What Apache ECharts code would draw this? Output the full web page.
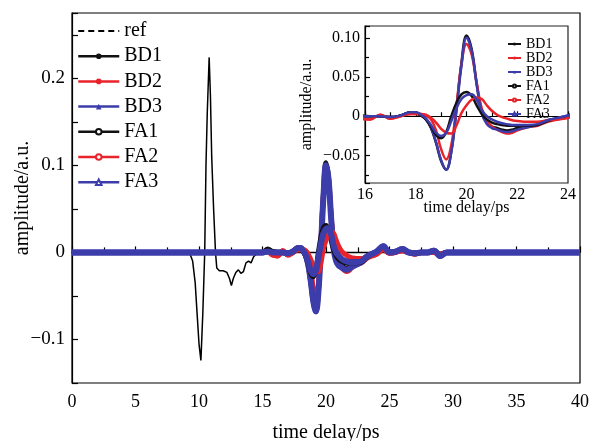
<!DOCTYPE html>
<html><head><meta charset="utf-8">
<script src="https://cdn.jsdelivr.net/npm/echarts@6/dist/echarts.min.js"></script>
<style>html,body{margin:0;padding:0;background:#fff}#c{width:592px;height:441px}</style>
</head><body><div id="c"></div>
<script>
// reference pulse
const timeRef = [0, 9.0, 9.3, 9.5, 9.7, 9.85, 10.0, 10.15, 10.3, 10.45, 10.55, 10.65, 10.8, 10.9, 11.0, 11.15, 11.3, 11.4, 11.6, 11.9, 12.2, 12.4, 12.55, 12.7, 12.9, 13.1, 13.3, 13.5, 13.7, 13.9, 14.1, 14.3, 14.5, 14.8, 15.2, 40];
const refValues = [0, 0, -0.002, -0.01, -0.035, -0.07, -0.105, -0.124, -0.07, 0.0, 0.1, 0.16, 0.224, 0.18, 0.11, 0.05, 0.0, -0.018, -0.021, -0.021, -0.023, -0.03, -0.038, -0.03, -0.023, -0.02, -0.024, -0.022, -0.012, -0.01, -0.012, -0.005, -0.002, 0.001, 0, 0];

// signal time axis (ps)
const timeSig = [0, 15, 15.4, 15.8, 16.2, 16.6, 17.0, 17.4, 17.8, 18.0, 18.2, 18.4, 18.6, 18.8, 19.0, 19.2, 19.4, 19.6, 19.8, 20.0, 20.2, 20.4, 20.6, 20.8, 21.0, 21.2, 21.4, 21.6, 21.8, 22.0, 22.4, 22.8, 23.2, 23.6, 24.0, 24.5, 25.0, 25.5, 26.0, 26.5, 27.0, 27.5, 28.0, 28.5, 29.0, 29.5, 30, 40];

const bd1 = [0, 0, 0.004, 0.001, 0.0, 0.0, -0.001, 0.001, 0.005, 0.004, 0.001, -0.004, -0.015, -0.034, -0.057, -0.068, -0.045, 0.008, 0.068, 0.103, 0.086, 0.042, 0.006, -0.008, -0.013, -0.015, -0.017, -0.018, -0.017, -0.015, -0.013, -0.011, -0.005, -0.003, 0.0, 0.006, 0.0, 0.001, 0.003, 0.0, -0.001, 0.0, 0.0, 0.001, -0.003, 0.0, 0, 0];
const bd2 = [0, 0, 0.001, -0.003, -0.004, 0.002, -0.003, 0.0, 0.003, 0.003, 0.003, 0.001, -0.004, -0.018, -0.042, -0.055, -0.037, 0.012, 0.066, 0.092, 0.079, 0.043, 0.01, -0.006, -0.013, -0.017, -0.02, -0.022, -0.021, -0.018, -0.014, -0.012, -0.007, -0.004, -0.002, 0.004, -0.001, 0.0, 0.002, 0.0, -0.002, 0.0, 0.0, 0.0, -0.002, 0.0, 0, 0];
const bd3 = [0, 0, 0.001, 0.0, 0.0, 0.0, -0.001, 0.001, 0.005, 0.005, 0.002, -0.003, -0.014, -0.033, -0.056, -0.068, -0.046, 0.006, 0.064, 0.100, 0.084, 0.04, 0.004, -0.01, -0.015, -0.017, -0.019, -0.02, -0.019, -0.017, -0.014, -0.011, -0.005, -0.002, 0.001, 0.007, 0.0, 0.001, 0.004, 0.0, -0.001, 0.0, 0.0, 0.002, -0.004, 0.0, 0, 0];
const fa1 = [0, 0, 0.003, 0.001, 0.0, 0.0, -0.001, 0.001, 0.005, 0.004, 0.001, -0.004, -0.013, -0.024, -0.028, -0.02, 0.0, 0.017, 0.028, 0.031, 0.026, 0.014, 0.003, -0.004, -0.008, -0.01, -0.011, -0.012, -0.012, -0.012, -0.012, -0.011, -0.006, -0.003, 0.0, 0.005, 0.0, 0.001, 0.003, 0.0, -0.001, 0.0, 0.0, 0.001, -0.002, 0.0, 0, 0];
const fa2 = [0, 0, 0.001, -0.003, -0.004, 0.002, -0.003, 0.0, 0.003, 0.003, 0.003, 0.002, -0.002, -0.008, -0.016, -0.021, -0.022, -0.012, 0.004, 0.014, 0.021, 0.024, 0.022, 0.014, 0.007, 0.002, -0.001, -0.003, -0.005, -0.006, -0.007, -0.007, -0.005, -0.004, -0.002, 0.003, -0.001, 0.0, 0.002, 0.0, -0.002, 0.0, 0.0, 0.0, -0.002, 0.0, 0, 0];
const fa3 = [0, 0, 0.001, 0.0, 0.0, 0.0, -0.001, 0.001, 0.005, 0.005, 0.002, -0.003, -0.011, -0.021, -0.025, -0.021, -0.006, 0.01, 0.022, 0.027, 0.028, 0.021, 0.008, 0.0, -0.004, -0.007, -0.009, -0.01, -0.011, -0.011, -0.011, -0.01, -0.005, -0.002, 0.001, 0.007, 0.0, 0.001, 0.004, 0.0, -0.001, 0.0, 0.0, 0.002, -0.004, 0.0, 0, 0];

const seriesNames = ['BD1', 'BD2', 'BD3', 'FA1', 'FA2', 'FA3'];
const seriesValues = [bd1, bd2, bd3, fa1, fa2, fa3];
const mainYTicks = ['−0.1', '0', '0.1', '0.2'];
const insetYTicks = ['−0.05', '0', '0.05', '0.10'];

const colors = ['#111111', '#e8232a', '#3c3caa', '#111111', '#e8232a', '#3c3caa'];
const symbols = ['circle', 'circle', 'triangle', 'emptyCircle', 'emptyCircle', 'emptyTriangle'];
const FONT = '"Liberation Serif", "DejaVu Serif", serif';
const pairs = (xs, ys) => xs.map((x, i) => [x, ys[i]]);

function fmt(v, step, dec) {
  const k = Math.round(v / step);
  if (Math.abs(v / step - k) > 1e-6) return '';
  if (k === 0) return '0';
  const s = (Math.abs(k) * step).toFixed(dec);
  return (k < 0 ? '−' : '') + s;
}

const series = [{
  name: 'ref', type: 'line', xAxisIndex: 0, yAxisIndex: 0,
  data: pairs(timeRef, refValues), symbol: 'none',
  lineStyle: { color: '#000', width: 1.5 }, itemStyle: { color: '#000' }, z: 2
}];
seriesNames.forEach((n, i) => series.push({
  name: n, type: 'line', xAxisIndex: 0, yAxisIndex: 0,
  data: pairs(timeSig, seriesValues[i]), smooth: 0.4,
  symbol: symbols[i], showSymbol: false, symbolSize: 6,
  lineStyle: { color: colors[i], width: i === 2 || i === 5 ? 6 : 5 }, itemStyle: { color: colors[i] }, z: 3 + i
}));
seriesNames.forEach((n, i) => series.push({
  name: n, type: 'line', xAxisIndex: 1, yAxisIndex: 1,
  data: pairs(timeSig, seriesValues[i]), smooth: 0.4,
  symbol: symbols[i], showSymbol: false,
  lineStyle: { color: colors[i], width: 2.5 }, itemStyle: { color: colors[i] }, z: 20 + i
}));

const axisLine = { show: true, lineStyle: { color: '#000', width: 1.2 } };

const option = {
  animation: false,
  backgroundColor: '#fff',
  textStyle: { fontFamily: FONT, color: '#000' },
  grid: [
    { left: 72, right: 12, top: 13, bottom: 58, outerBoundsMode: 'none', containLabel: false, show: true, borderColor: '#000', borderWidth: 1.2, backgroundColor: 'transparent' },
    { left: 365, right: 24, top: 26, bottom: 258, outerBoundsMode: 'none', containLabel: false, show: true, borderColor: '#222', borderWidth: 1.2, backgroundColor: '#fff', z: 10 }
  ],
  xAxis: [
    { type: 'value', gridIndex: 0, min: 0, max: 40, interval: 5,
      name: 'time delay/ps', nameLocation: 'middle', nameGap: 40, nameMoveOverlap: false,
      nameTextStyle: { fontFamily: FONT, fontSize: 20, color: '#000' },
      axisLine: axisLine,
      axisTick: { inside: true, length: 6, lineStyle: { color: '#000', width: 1.2 } },
      minorTick: { show: true, splitNumber: 2, length: 5, lineStyle: { color: '#000', width: 1.2 } },
      axisLabel: { fontFamily: FONT, fontSize: 18, color: '#000', margin: 10 },
      splitLine: { show: false } },
    { type: 'value', gridIndex: 1, min: 16, max: 24, interval: 2,
      name: 'time delay/ps', nameLocation: 'middle', nameGap: 17, nameMoveOverlap: false,
      nameTextStyle: { fontFamily: FONT, fontSize: 16, color: '#000' },
      axisLine: axisLine, z: 11,
      axisTick: { inside: true, length: 5, lineStyle: { color: '#000', width: 1.2 } },
      minorTick: { show: true, splitNumber: 2, length: 4, lineStyle: { color: '#000', width: 1.2 } },
      axisLabel: { fontFamily: FONT, fontSize: 16, color: '#000', margin: 4 },
      splitLine: { show: false } }
  ],
  yAxis: [
    { type: 'value', gridIndex: 0, min: -0.15, max: 0.275, interval: 0.05,
      name: 'amplitude/a.u.', nameLocation: 'middle', nameGap: 39, nameMoveOverlap: false,
      nameTextStyle: { fontFamily: FONT, fontSize: 20, color: '#000' },
      axisLine: axisLine,
      axisTick: { inside: true, length: 6, lineStyle: { color: '#000', width: 1.2 } },
      axisLabel: { fontFamily: FONT, fontSize: 19, color: '#000', margin: 7,
        formatter: v => { const s = fmt(v, 0.1, 1); return s && mainYTicks.includes(s) ? s : ''; } },
      splitLine: { show: false } },
    { type: 'value', gridIndex: 1, min: -0.085, max: 0.115,
      name: 'amplitude/a.u.', nameLocation: 'middle', nameGap: 50, nameMoveOverlap: false,
      nameTextStyle: { fontFamily: FONT, fontSize: 16, color: '#000' },
      axisLine: axisLine, z: 11,
      axisTick: { inside: true, length: 5, lineStyle: { color: '#000', width: 1.2 } },
      minorTick: { show: true, splitNumber: 2, length: 4, lineStyle: { color: '#000', width: 1.2 } },
      axisLabel: { fontFamily: FONT, fontSize: 16, color: '#000', margin: 5,
        formatter: v => { const s = fmt(v, 0.05, 2); const t = s === '0.00' ? '0' : s; return insetYTicks.includes(t) ? t : ''; } },
      splitLine: { show: false } }
  ],
  legend: [
    { orient: 'vertical', left: 77, top: 21, padding: 0, itemGap: 5.2,
      itemWidth: 41, itemHeight: 7,
      textStyle: { fontFamily: FONT, fontSize: 20, color: '#000', lineHeight: 20 },
      lineStyle: { width: 2.5 },
      data: [{ name: 'ref', lineStyle: { type: [6, 4], width: 2, color: '#000' }, itemStyle: { opacity: 0 } }].concat(seriesNames) },
    { orient: 'vertical', left: 507, top: 37, padding: 0, itemGap: 0,
      itemWidth: 13, itemHeight: 4, z: 30,
      textStyle: { fontFamily: FONT, fontSize: 14, color: '#000', lineHeight: 10 },
      lineStyle: { width: 2 },
      data: seriesNames }
  ],
  series: series
};

const chart = echarts.init(document.getElementById('c'), null, { renderer: 'canvas' });
chart.setOption(option);
</script>
</body></html>
